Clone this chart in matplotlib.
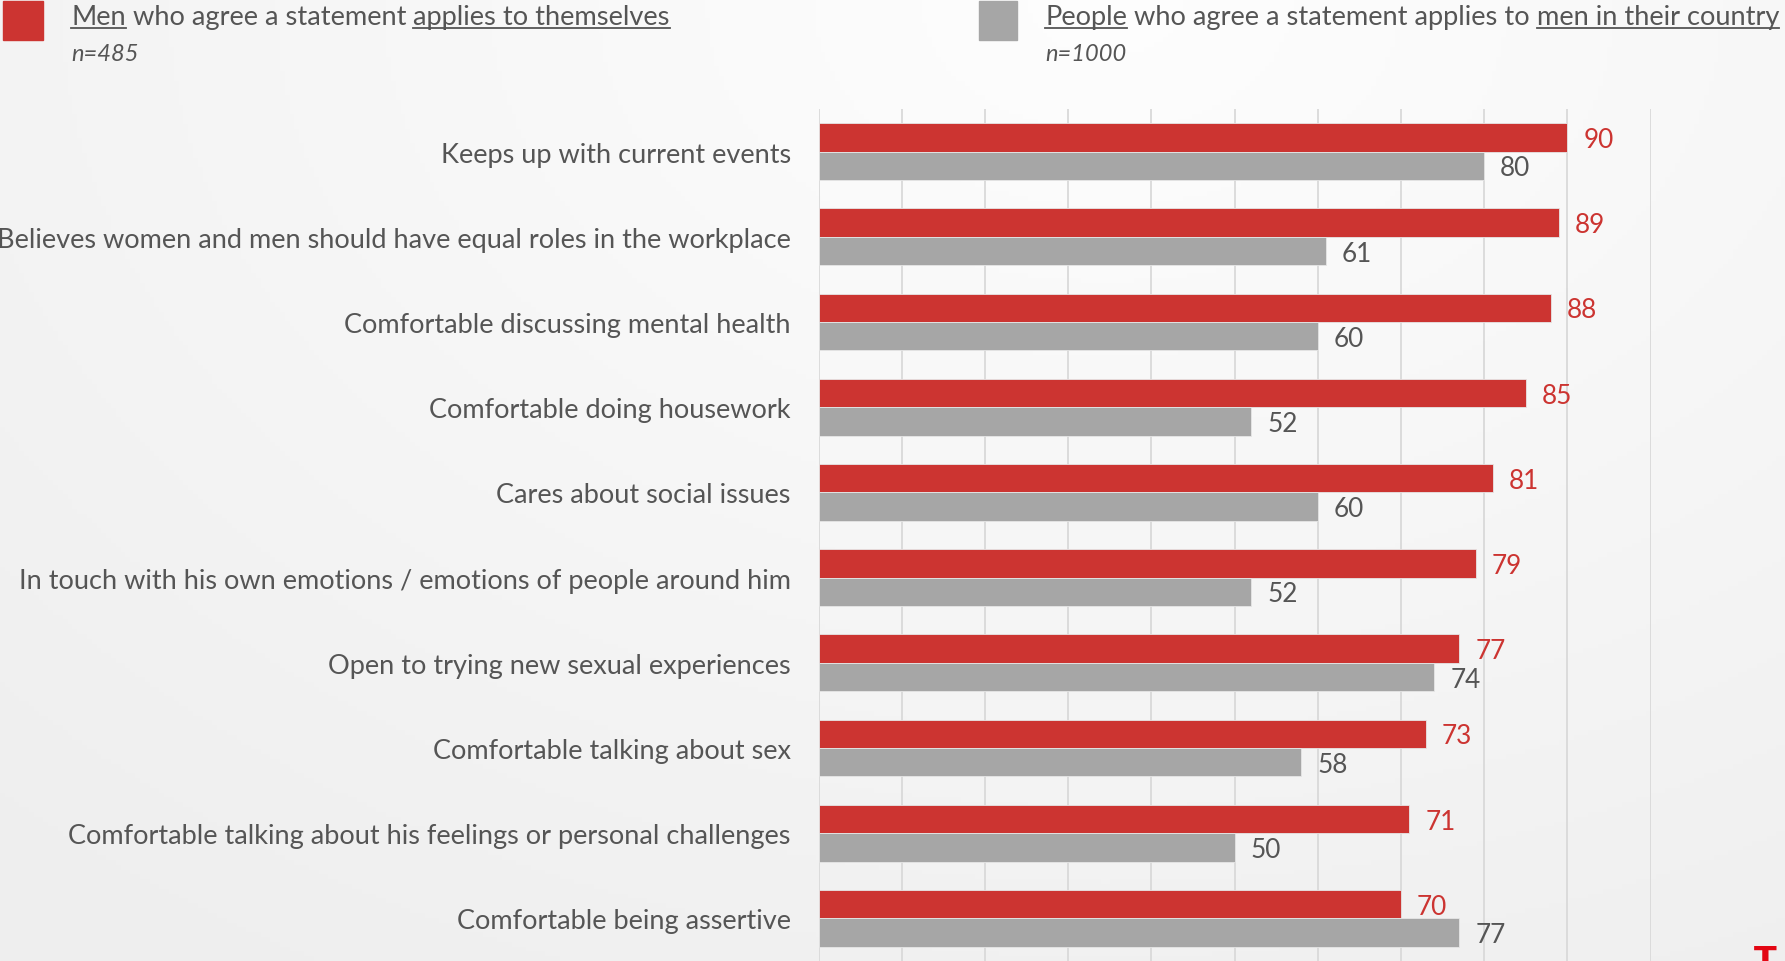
import numpy as np
import matplotlib
matplotlib.use("Agg")
import matplotlib.pyplot as plt
from matplotlib.lines import Line2D

categories = [
    "Keeps up with current events",
    "Believes women and men should have equal roles in the workplace",
    "Comfortable discussing mental health",
    "Comfortable doing housework",
    "Cares about social issues",
    "In touch with his own emotions / emotions of people around him",
    "Open to trying new sexual experiences",
    "Comfortable talking about sex",
    "Comfortable talking about his feelings or personal challenges",
    "Comfortable being assertive",
]
men_self = [90, 89, 88, 85, 81, 79, 77, 73, 71, 70]
people_country = [80, 61, 60, 52, 60, 52, 74, 58, 50, 77]

RED = "#CC3431"
GRAY = "#A6A6A6"
TXT = "#555555"

plt.rcParams["font.family"] = ["Lato", "DejaVu Sans"]

W, H = 1785, 962
fig = plt.figure(figsize=(W / 100, H / 100), dpi=100)

# background gradient
bg = fig.add_axes([0, 0, 1, 1], zorder=-10)
yy, xx = np.mgrid[0:1:200j, 0:1:370j]
d = np.sqrt(((xx - 0.62) * 1.3) ** 2 + (yy - 0.0) ** 2)
val = 0.995 - 0.06 * np.clip(d, 0, 1.2) / 1.2
bg.imshow(np.dstack([val, val, val]), extent=[0, 1, 0, 1], aspect="auto", origin="upper")
bg.axis("off")

ax = fig.add_axes([818.5 / W, 0, (1650.7 - 818.5) / W, 1 - 110 / H])
ax.patch.set_alpha(0)

y = np.arange(len(categories))
h = 1 / 3
ax.barh(y - h / 2, men_self, height=h, color=RED, edgecolor="#E6E6E6", linewidth=0.6, zorder=3)
ax.barh(y + h / 2, people_country, height=h, color=GRAY, edgecolor="#E6E6E6", linewidth=0.6, zorder=3)

for yi, v in zip(y, men_self):
    ax.annotate(str(v), (v, yi - h / 2), xytext=(11.5, -1.5), textcoords="offset points",
                va="center", ha="left", color=RED, fontsize=18.8)
for yi, v in zip(y, people_country):
    ax.annotate(str(v), (v, yi + h / 2), xytext=(11.5, -1.5), textcoords="offset points",
                va="center", ha="left", color=TXT, fontsize=18.8)

ax.set_xlim(0, 100)
ax.set_ylim(len(categories) - 0.5, -0.5)
ax.set_xticks(np.arange(0, 101, 10))
ax.set_yticks(y)
ax.set_yticklabels(categories, fontsize=19.5, color=TXT)
ax.tick_params(axis="y", length=0, pad=20)
ax.tick_params(axis="x", length=0, labelbottom=False)
ax.grid(axis="x", color="#D9D9D9", linewidth=1.3, zorder=0)
ax.set_axisbelow(True)
for s in ax.spines.values():
    s.set_visible(False)

# legend
fig.canvas.draw()
renderer = fig.canvas.get_renderer()


def underlined_line(x0, ybase, pieces, size):
    x = x0
    for txt, ul in pieces:
        t = fig.text(x / W, 1 - ybase / H, txt, fontsize=size, color=TXT, va="baseline", ha="left")
        bb = t.get_window_extent(renderer)
        if ul:
            yl = 1 - (ybase + 3.5) / H
            fig.add_artist(Line2D([x / W, (x + bb.width) / W], [yl, yl], color=TXT, linewidth=1.3,
                                  transform=fig.transFigure))
        x += bb.width


fig.add_artist(plt.Rectangle((3 / W, 1 - 41 / H), 40 / W, 39 / H, color=RED, transform=fig.transFigure))
fig.add_artist(plt.Rectangle((979 / W, 1 - 41 / H), 38 / W, 39 / H, color=GRAY, transform=fig.transFigure))

underlined_line(71, 25, [("Men", True), (" who agree a statement ", False), ("applies to themselves", True)], 19.6)
underlined_line(1045, 25, [("People", True), (" who agree a statement applies to ", False),
                           ("men in their country", True)], 19.6)
fig.text(71 / W, 1 - 61 / H, "n=485", fontsize=17, style="italic", color=TXT, va="baseline")
fig.text(1045 / W, 1 - 61 / H, "n=1000", fontsize=17, style="italic", color=TXT, va="baseline")

# partial logo mark bottom right
fig.text(1765 / W, 1 - 945 / H, "T", fontsize=24, fontweight="bold", color="#E30613",
         family="DejaVu Sans", ha="center", va="top")

fig.savefig("out.png", dpi=100)
